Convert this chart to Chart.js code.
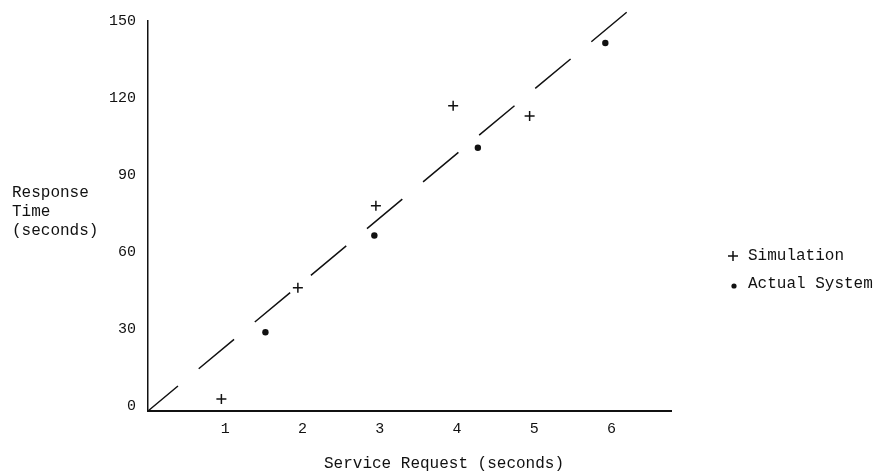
<!DOCTYPE html>
<html>
<head>
<meta charset="utf-8">
<script src="https://cdn.jsdelivr.net/npm/chart.js@4/dist/chart.umd.min.js"></script>
<style>
  html, body { margin: 0; padding: 0; background: #fff; }
  #wrap { width: 877px; height: 475px; }
</style>
</head>
<body>
<div id="wrap"><canvas id="chart" width="877" height="475"></canvas></div>
<script>
// values
const simX = [0.95, 1.94, 2.95, 3.95, 4.94];
const simY = [4.7, 48, 80, 119, 115];
const actX = [1.52, 2.93, 4.27, 5.92];
const actY = [30.7, 68.4, 102.6, 143.4];
const fitX = [0, 6.22];
const fitY = [0, 156];
const yTicks = [0, 30, 60, 90, 120, 150];
const xTicks = [1, 2, 3, 4, 5, 6];
const yTitle = ["Response", "Time", "(seconds)"];
const xTitle = "Service Request (seconds)";
const legendNames = ["Simulation", "Actual System"];

const ink = "#111";
const mono = "Liberation Mono";

const toPoints = (xs, ys) => xs.map((x, i) => ({ x, y: ys[i] }));

// horizontal y title, x title (off-centre in the original) and the legend
const sideText = {
  id: "sideText",
  afterDraw(chart) {
    const ctx = chart.ctx;
    const area = chart.chartArea;
    ctx.save();
    ctx.font = "16px '" + mono + "'";
    ctx.fillStyle = ink;
    ctx.strokeStyle = ink;
    ctx.textBaseline = "middle";
    ctx.textAlign = "left";
    yTitle.forEach((t, i) => ctx.fillText(t, 12, 193 + i * 19));

    ctx.textAlign = "center";
    ctx.fillText(xTitle, 444, 464);

    ctx.textAlign = "left";
    const lx = area.right + 62;
    // cross
    ctx.lineWidth = 1.5;
    ctx.beginPath();
    ctx.moveTo(lx - 5, 256); ctx.lineTo(lx + 5, 256);
    ctx.moveTo(lx, 251); ctx.lineTo(lx, 261);
    ctx.stroke();
    ctx.fillText(legendNames[0], lx + 15, 256);
    // dot
    ctx.beginPath();
    ctx.arc(lx + 1, 286, 2.6, 0, Math.PI * 2);
    ctx.fill();
    ctx.fillText(legendNames[1], lx + 15, 284);
    ctx.restore();
  }
};

new Chart(document.getElementById("chart"), {
  type: "scatter",
  plugins: [sideText],
  data: {
    datasets: [
      {
        label: legendNames[0],
        data: toPoints(simX, simY),
        pointStyle: "cross",
        pointRadius: 5,
        pointBorderWidth: 1.5,
        borderColor: ink,
        backgroundColor: ink
      },
      {
        label: legendNames[1],
        data: toPoints(actX, actY),
        pointStyle: "circle",
        pointRadius: 3.2,
        pointBorderWidth: 0,
        borderColor: ink,
        backgroundColor: ink
      },
      {
        type: "line",
        label: "fit",
        data: toPoints(fitX, fitY),
        borderColor: ink,
        borderWidth: 1.5,
        borderDash: [46, 27],
        borderDashOffset: 7,
        pointRadius: 0,
        fill: false,
        clip: false
      }
    ]
  },
  options: {
    responsive: false,
    animation: false,
    events: [],
    layout: { padding: { left: 0, right: 206, top: 20, bottom: 30 } },
    plugins: {
      legend: { display: false },
      tooltip: { enabled: false }
    },
    scales: {
      x: {
        type: "linear",
        min: 0,
        max: 6.77,
        afterFit: s => { s.height = 34; },
        afterBuildTicks: s => { s.ticks = xTicks.map(v => ({ value: v })); },
        grid: { display: true, drawOnChartArea: false, drawTicks: false },
        border: { display: true, color: ink, width: 2 },
        ticks: {
          padding: 9,
          color: ink,
          font: { family: mono, size: 15 }
        }
      },
      y: {
        type: "linear",
        min: 0,
        max: 152,
        afterFit: s => { s.width = 148; },
        afterBuildTicks: s => { s.ticks = yTicks.map(v => ({ value: v })); },
        grid: { display: true, drawOnChartArea: false, drawTicks: false },
        border: { display: true, color: ink, width: 1.5 },
        ticks: {
          padding: 12,
          labelOffset: -5,
          color: ink,
          font: { family: mono, size: 15 }
        }
      }
    }
  }
});
</script>
</body>
</html>
